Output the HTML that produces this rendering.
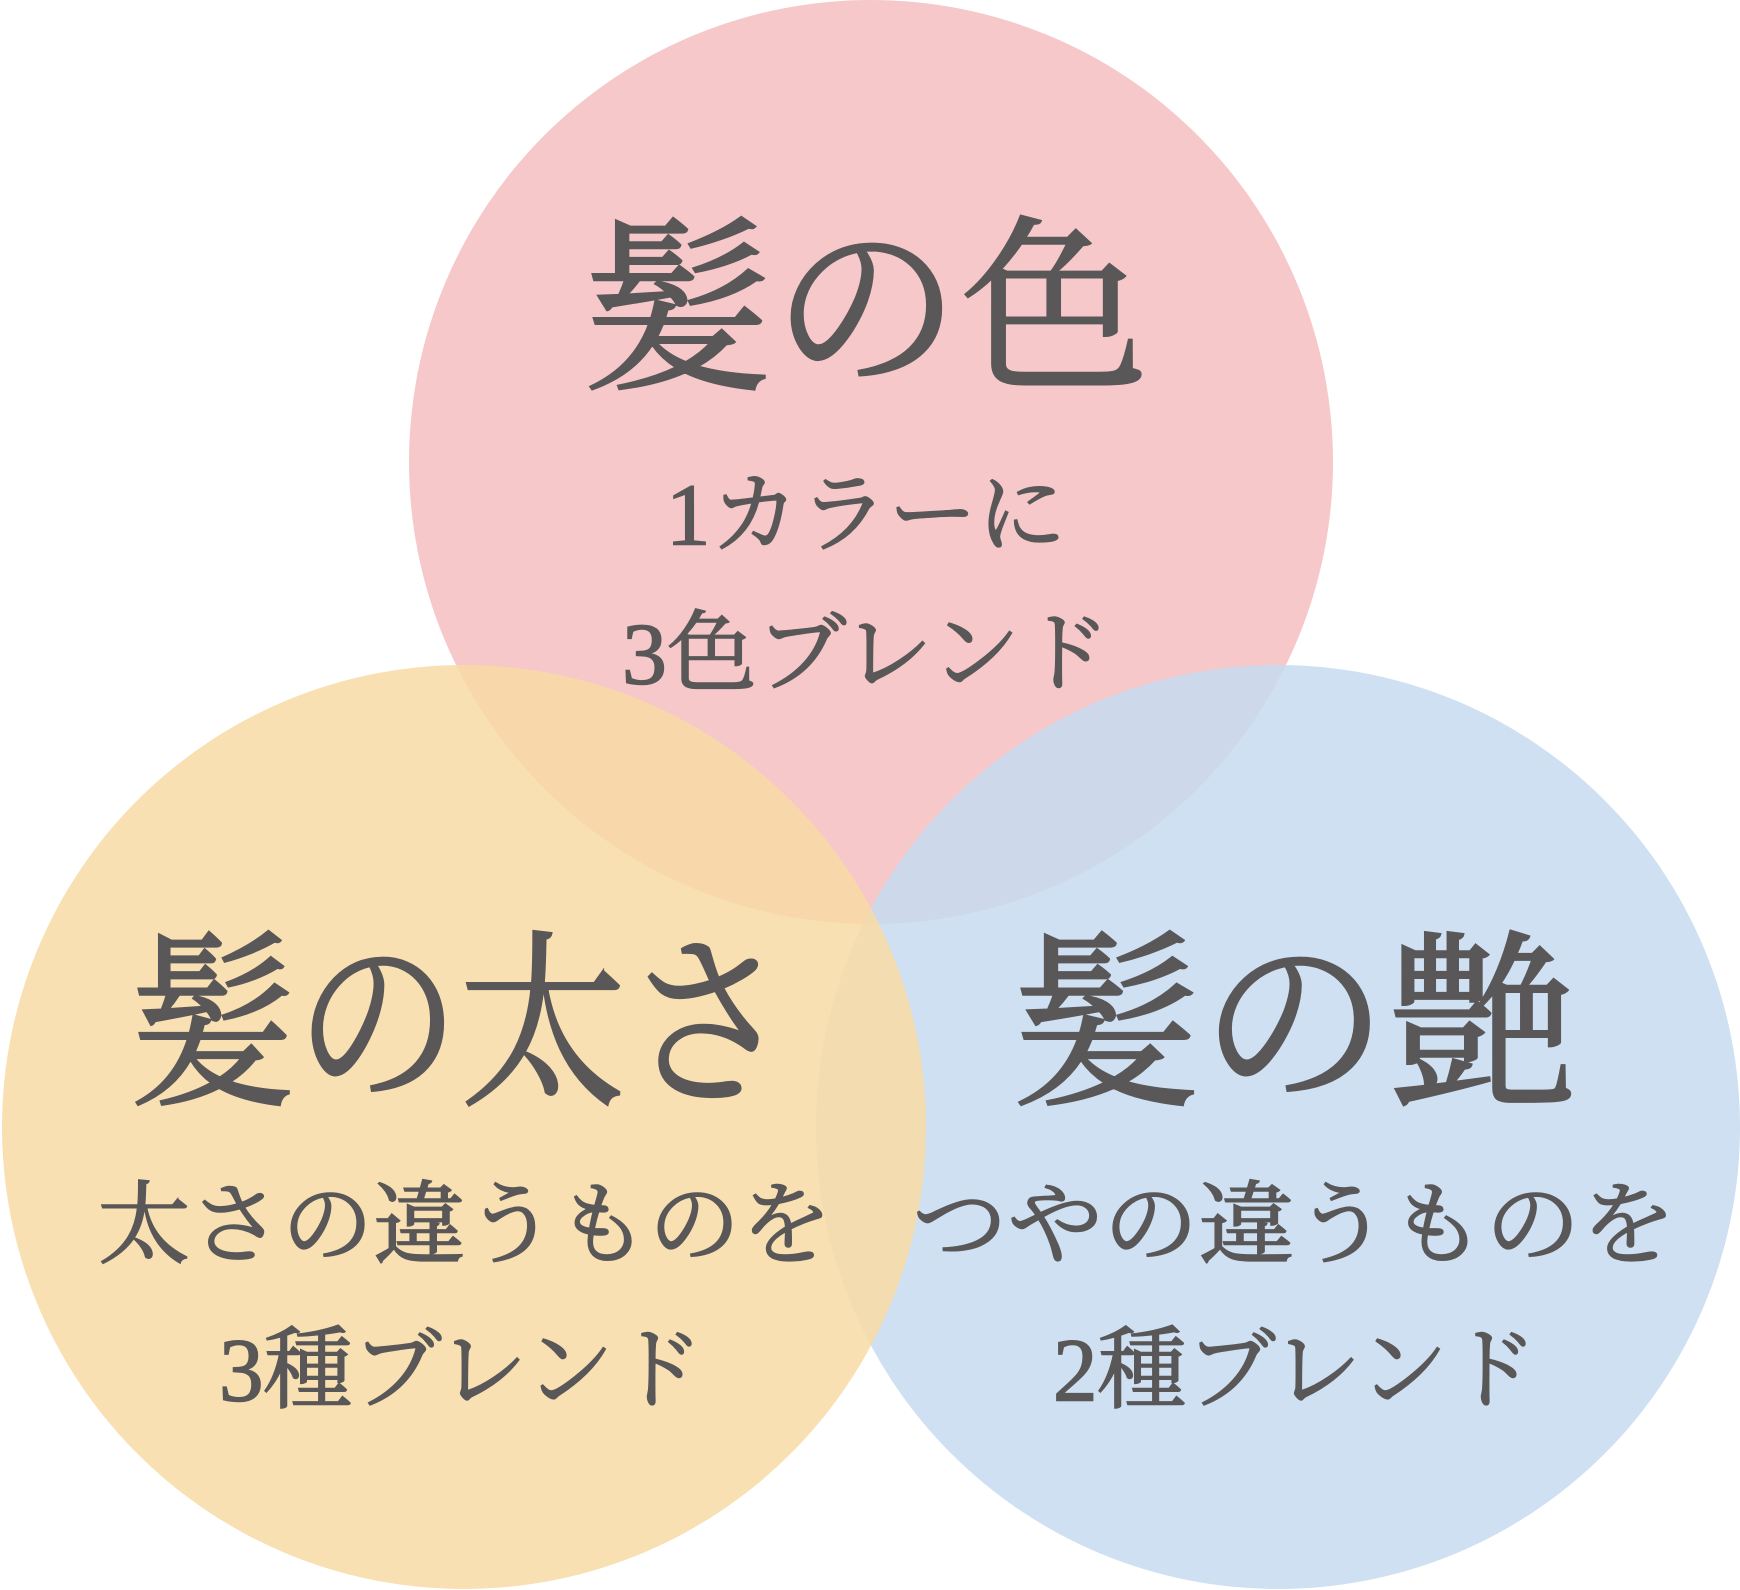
<!DOCTYPE html>
<html><head><meta charset="utf-8"><style>
html,body{margin:0;padding:0;background:#fff;}
svg{display:block;}
text{font-family:"Liberation Serif","Noto Serif CJK JP","Noto Serif CJK SC",serif;fill:#595757;stroke:#595757;stroke-width:1.6;text-anchor:middle;dominant-baseline:central;}
text.h{stroke-width:2.5;}
</style></head><body>
<svg width="1740" height="1590" viewBox="0 0 1740 1590" xmlns="http://www.w3.org/2000/svg">
<circle cx="871" cy="462" r="462" fill="#f6c8c9"/>
<circle cx="1278" cy="1127" r="462" fill="#c6daf0" opacity="0.85"/>
<circle cx="464" cy="1127" r="462" fill="#f8dba4" opacity="0.85"/>
<text class="h" x="866" y="311" font-size="188" textLength="566" lengthAdjust="spacingAndGlyphs">髪の色</text>
<text x="866" y="516" font-size="88" textLength="400" lengthAdjust="spacingAndGlyphs">1カラーに</text>
<text x="866" y="655" font-size="88" textLength="488" lengthAdjust="spacingAndGlyphs">3色ブレンド</text>
<text class="h" x="460" y="1027" font-size="190" textLength="660" lengthAdjust="spacingAndGlyphs">髪の太さ</text>
<text x="465" y="1226" font-size="90" textLength="734" lengthAdjust="spacingAndGlyphs">太さの違うものを</text>
<text x="461" y="1371" font-size="90" textLength="484" lengthAdjust="spacingAndGlyphs">3種ブレンド</text>
<text class="h" x="1294" y="1027" font-size="190" textLength="564" lengthAdjust="spacingAndGlyphs">髪の艶</text>
<text x="1294" y="1226" font-size="90" textLength="764" lengthAdjust="spacingAndGlyphs">つやの違うものを</text>
<text x="1295" y="1371" font-size="90" textLength="484" lengthAdjust="spacingAndGlyphs">2種ブレンド</text>
</svg>
</body></html>
